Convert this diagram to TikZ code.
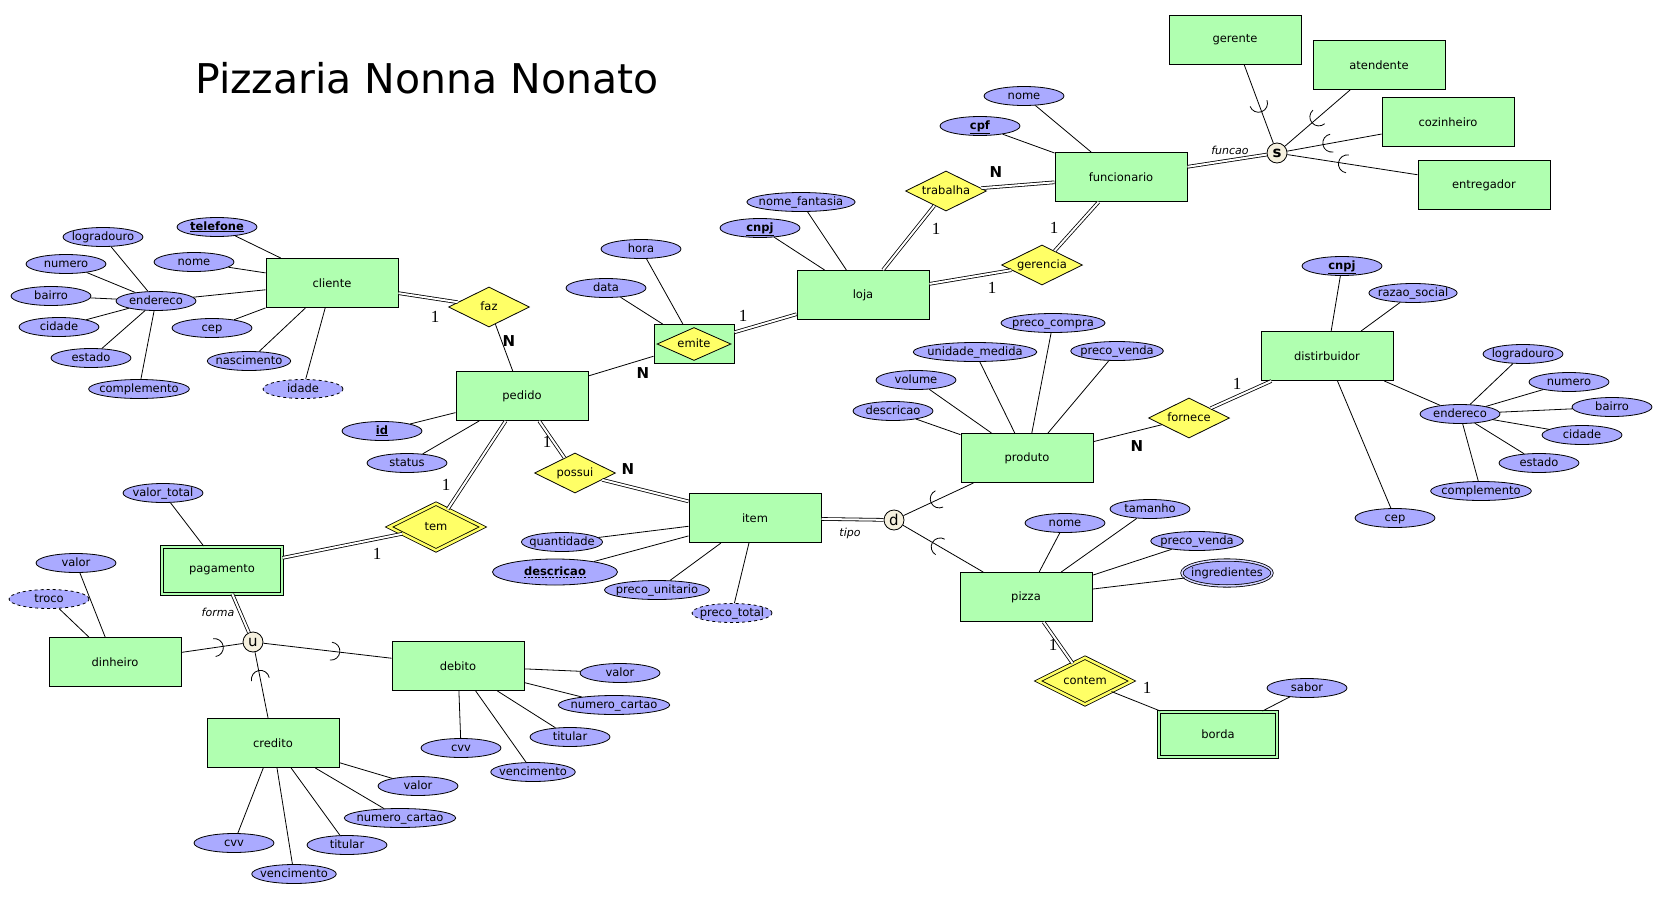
\documentclass[tikz,border=0pt]{standalone}
\usepackage{fontspec}
\setmainfont{DejaVu Sans}
\newfontfamily\cardserif{Liberation Serif}
\usetikzlibrary{shapes.geometric,calc}

\definecolor{entgreen}{RGB}{176,255,176}
\definecolor{attrblue}{RGB}{170,170,255}
\definecolor{relyellow}{RGB}{255,255,102}
\definecolor{speccream}{RGB}{245,240,222}

% half circle on a line, open towards the second node
\newcommand{\subsetarc}[3]{%
  \draw let \p1=(#1), \p2=(#2), \n1={atan2(\y2-\y1,\x2-\x1)} in
    ($(#1)!#3!(#2)$) ++(\n1+90:9pt) arc[start angle=\n1+90, end angle=\n1+270, radius=9pt];}

\begin{document}
\begin{tikzpicture}[x=1pt,y=-1pt,line width=0.8pt,font=\fontsize{11.5}{13}\selectfont,
  entity/.style={draw,fill=entgreen,line width=1pt,minimum width=132pt,minimum height=49pt},
  weak/.style={entity,double=entgreen,double distance=2pt,minimum width=120pt,minimum height=47pt},
  attr/.style={ellipse,draw,fill=attrblue,minimum width=80pt,minimum height=19pt,
    inner xsep=-4pt,inner ysep=1.5pt,text height=8pt,text depth=2pt},
  derived/.style={attr,dashed},
  multi/.style={attr,double=attrblue!50!white,double distance=1.5pt,minimum width=88pt,minimum height=26pt},
  rel/.style={diamond,aspect=2,draw,fill=relyellow,minimum width=81pt,minimum height=40pt,
    inner sep=0pt,text height=8pt,text depth=2pt},
  idrel/.style={rel,double=relyellow,double distance=2.5pt,minimum width=94pt,minimum height=47pt},
  spec/.style={circle,draw,fill=speccream,minimum size=20pt,inner sep=0pt,font=\fontsize{15}{15}\selectfont},
  dbl/.style={double,double distance=2pt},
  one/.style={font=\cardserif\fontsize{17}{17}\selectfont,inner sep=0pt},
  many/.style={font=\bfseries\fontsize{15}{15}\selectfont,inner sep=0pt},
  role/.style={font=\itshape\fontsize{11}{13}\selectfont,inner sep=0pt}]

  \useasboundingbox (0,0) rectangle (1671,902);
  \node[font=\fontsize{41}{48}\selectfont] (title) at (427,78) {Pizzaria Nonna Nonato};

  % entities
  \node[entity] (cliente) at (332,283) {cliente};
  \node[entity] (pedido) at (522,396) {pedido};
  \node[entity,minimum width=80pt,minimum height=39pt] (emite) at (694,344) {};
  \node[rel,minimum width=74pt,minimum height=33pt] (emite_r) at (emite) {emite};
  \node[entity] (loja) at (863,295) {loja};
  \node[entity] (funcionario) at (1121,177) {funcionario};
  \node[entity] (gerente) at (1235,40) {gerente};
  \node[entity] (atendente) at (1379,65) {atendente};
  \node[entity] (cozinheiro) at (1448,122) {cozinheiro};
  \node[entity] (entregador) at (1484,185) {entregador};
  \node[entity] (distribuidor) at (1327,356) {distirbuidor};
  \node[entity] (produto) at (1027,458) {produto};
  \node[entity] (item) at (755,518) {item};
  \node[entity] (pizza) at (1026,597) {pizza};
  \node[weak,minimum width=118pt,minimum height=45pt] (borda) at (1218,734) {borda};
  \node[weak] (pagamento) at (222,570) {pagamento};
  \node[entity] (dinheiro) at (115,662) {dinheiro};
  \node[entity] (debito) at (458,666) {debito};
  \node[entity] (credito) at (273,743) {credito};

  % relationships
  \node[rel] (faz) at (489,307) {faz};
  \node[rel] (trabalha) at (946,191) {trabalha};
  \node[rel] (gerencia) at (1042,265) {gerencia};
  \node[rel] (fornece) at (1189,418) {fornece};
  \node[rel] (possui) at (575,473) {possui};
  \node[idrel] (tem) at (436,527) {tem};
  \node[idrel] (contem) at (1085,681) {contem};

  % specialization circles
  \node[spec] (fs) at (1277,153) {\textbf{s}};
  \node[spec] (td) at (894,520) {d};
  \node[spec] (fu) at (253,642) {u};

  % attributes
  \node[attr] (cli_tel) at (217,227) {\underline{\textbf{telefone}}};
  \node[attr] (cli_nome) at (194,262) {nome};
  \node[attr] (cli_end) at (156,301) {endereco};
  \node[attr] (cli_cep) at (212,328) {cep};
  \node[attr] (cli_nasc) at (249,361) {nascimento};
  \node[derived] (cli_idade) at (303,389) {idade};
  \node[attr] (ce_logr) at (103,237) {logradouro};
  \node[attr] (ce_num) at (66,264) {numero};
  \node[attr] (ce_bai) at (51,296) {bairro};
  \node[attr] (ce_cid) at (59,327) {cidade};
  \node[attr] (ce_est) at (91,358) {estado};
  \node[attr] (ce_comp) at (139,389) {complemento};

  \node[attr] (ped_id) at (382,431) {\underline{\textbf{id}}};
  \node[attr] (ped_status) at (407,463) {status};
  \node[attr] (em_data) at (606,288) {data};
  \node[attr] (em_hora) at (641,249) {hora};
  \node[attr] (loja_cnpj) at (760,228) {\underline{\textbf{cnpj}}};
  \node[attr] (loja_nf) at (801,202) {nome\_fantasia};
  \node[attr] (fun_cpf) at (980,126) {\underline{\textbf{cpf}}};
  \node[attr] (fun_nome) at (1024,96) {nome};

  \node[attr] (dis_cnpj) at (1342,266) {\underline{\textbf{cnpj}}};
  \node[attr] (dis_razao) at (1413,293) {razao\_social};
  \node[attr] (dis_end) at (1460,414) {endereco};
  \node[attr] (dis_cep) at (1395,518) {cep};
  \node[attr] (de_logr) at (1523,354) {logradouro};
  \node[attr] (de_num) at (1569,382) {numero};
  \node[attr] (de_bai) at (1612,407) {bairro};
  \node[attr] (de_cid) at (1582,435) {cidade};
  \node[attr] (de_est) at (1539,463) {estado};
  \node[attr] (de_comp) at (1481,491) {complemento};

  \node[attr] (pro_desc) at (893,411) {descricao};
  \node[attr] (pro_vol) at (916,380) {volume};
  \node[attr] (pro_um) at (975,352) {unidade\_medida};
  \node[attr] (pro_pc) at (1053,323) {preco\_compra};
  \node[attr] (pro_pv) at (1117,351) {preco\_venda};

  \node[attr] (it_qtd) at (562,542) {quantidade};
  \node[attr,minimum width=125pt,minimum height=26pt] (it_desc) at (555,572) {\textbf{descricao}};
  \node[attr] (it_pu) at (657,590) {preco\_unitario};
  \node[derived] (it_pt) at (732,613) {preco\_total};

  \node[attr] (piz_nome) at (1065,523) {nome};
  \node[attr] (piz_tam) at (1150,509) {tamanho};
  \node[attr] (piz_pv) at (1197,541) {preco\_venda};
  \node[multi] (piz_ingr) at (1227,573) {ingredientes};
  \node[attr] (bor_sabor) at (1307,688) {sabor};

  \node[attr] (pag_vt) at (163,493) {valor\_total};
  \node[attr] (din_valor) at (76,563) {valor};
  \node[derived] (din_troco) at (49,599) {troco};
  \node[attr] (deb_valor) at (620,673) {valor};
  \node[attr] (deb_num) at (614,705) {numero\_cartao};
  \node[attr] (deb_tit) at (570,737) {titular};
  \node[attr] (deb_cvv) at (461,748) {cvv};
  \node[attr] (deb_venc) at (533,772) {vencimento};
  \node[attr] (cre_valor) at (418,786) {valor};
  \node[attr] (cre_num) at (400,818) {numero\_cartao};
  \node[attr] (cre_tit) at (347,845) {titular};
  \node[attr] (cre_cvv) at (234,843) {cvv};
  \node[attr] (cre_venc) at (294,874) {vencimento};

  \draw[dash pattern=on 2pt off 1.5pt,line width=0.6pt]
    ([shift={(-31pt,-5.5pt)}]it_desc.center) -- ([shift={(31pt,-5.5pt)}]it_desc.center);

  % connectors
  \path
    (cliente) edge (cli_tel) edge (cli_nome) edge (cli_end) edge (cli_cep)
      edge (cli_nasc) edge (cli_idade) edge[dbl] (faz)
    (cli_end) edge (ce_logr) edge (ce_num) edge (ce_bai) edge (ce_cid)
      edge (ce_est) edge (ce_comp)
    (faz) edge (pedido)
    (pedido) edge (ped_id) edge (ped_status) edge (emite)
      edge[dbl] (possui) edge[dbl] (tem)
    (emite) edge (em_data) edge (em_hora) edge[dbl] (loja)
    (loja) edge (loja_cnpj) edge (loja_nf) edge[dbl] (trabalha) edge[dbl] (gerencia)
    (funcionario) edge[dbl] (trabalha) edge[dbl] (gerencia)
      edge (fun_cpf) edge (fun_nome) edge[dbl] (fs)
    (fs) edge (gerente) edge (atendente) edge (cozinheiro) edge (entregador)
    (distribuidor) edge (dis_cnpj) edge (dis_razao) edge (dis_end) edge (dis_cep)
      edge[dbl] (fornece)
    (dis_end) edge (de_logr) edge (de_num) edge (de_bai) edge (de_cid)
      edge (de_est) edge (de_comp)
    (produto) edge (fornece) edge (pro_desc) edge (pro_vol) edge (pro_um)
      edge (pro_pc) edge (pro_pv)
    (item) edge[dbl] (possui) edge[dbl] (td) edge (it_qtd) edge (it_desc)
      edge (it_pu) edge (it_pt)
    (td) edge (produto) edge (pizza)
    (pizza) edge (piz_nome) edge (piz_tam) edge (piz_pv) edge (piz_ingr)
      edge[dbl] (contem)
    (contem) edge (borda)
    (borda) edge (bor_sabor)
    (pagamento) edge[dbl] (tem) edge (pag_vt) edge[dbl] (fu)
    (fu) edge (dinheiro) edge (debito) edge (credito)
    (dinheiro) edge (din_valor) edge (din_troco)
    (debito) edge (deb_valor) edge (deb_num) edge (deb_tit) edge (deb_cvv) edge (deb_venc)
    (credito) edge (cre_valor) edge (cre_num) edge (cre_tit) edge (cre_cvv) edge (cre_venc);

  \subsetarc{fs}{gerente}{0.44}
  \subsetarc{fs}{atendente}{0.41}
  \subsetarc{fs}{cozinheiro}{0.32}
  \subsetarc{fs}{entregador}{0.34}
  \subsetarc{td}{produto}{0.34}
  \subsetarc{td}{pizza}{0.35}
  \subsetarc{fu}{dinheiro}{0.28}
  \subsetarc{fu}{credito}{0.37}
  \subsetarc{debito}{fu}{0.62}

  % cardinalities and roles
  \node[one] (k1) at (435,317) {1};
  \node[many] (k2) at (509,341) {N};
  \node[many] (k3) at (643,373) {N};
  \node[one] (k4) at (743,316) {1};
  \node[one] (k5) at (936,229) {1};
  \node[many] (k6) at (996,172) {N};
  \node[one] (k7) at (1054,228) {1};
  \node[one] (k8) at (992,288) {1};
  \node[one] (k9) at (547,442) {1};
  \node[many] (k10) at (628,469) {N};
  \node[one] (k11) at (446,485) {1};
  \node[one] (k12) at (377,554) {1};
  \node[one] (k13) at (1237,384) {1};
  \node[many] (k14) at (1137,446) {N};
  \node[one] (k15) at (1053,645) {1};
  \node[one] (k16) at (1147,688) {1};
  \node[role] (r_funcao) at (1230,150) {funcao};
  \node[role] (r_tipo) at (850,533) {tipo};
  \node[role] (r_forma) at (218,612) {forma};
\end{tikzpicture}
\end{document}
